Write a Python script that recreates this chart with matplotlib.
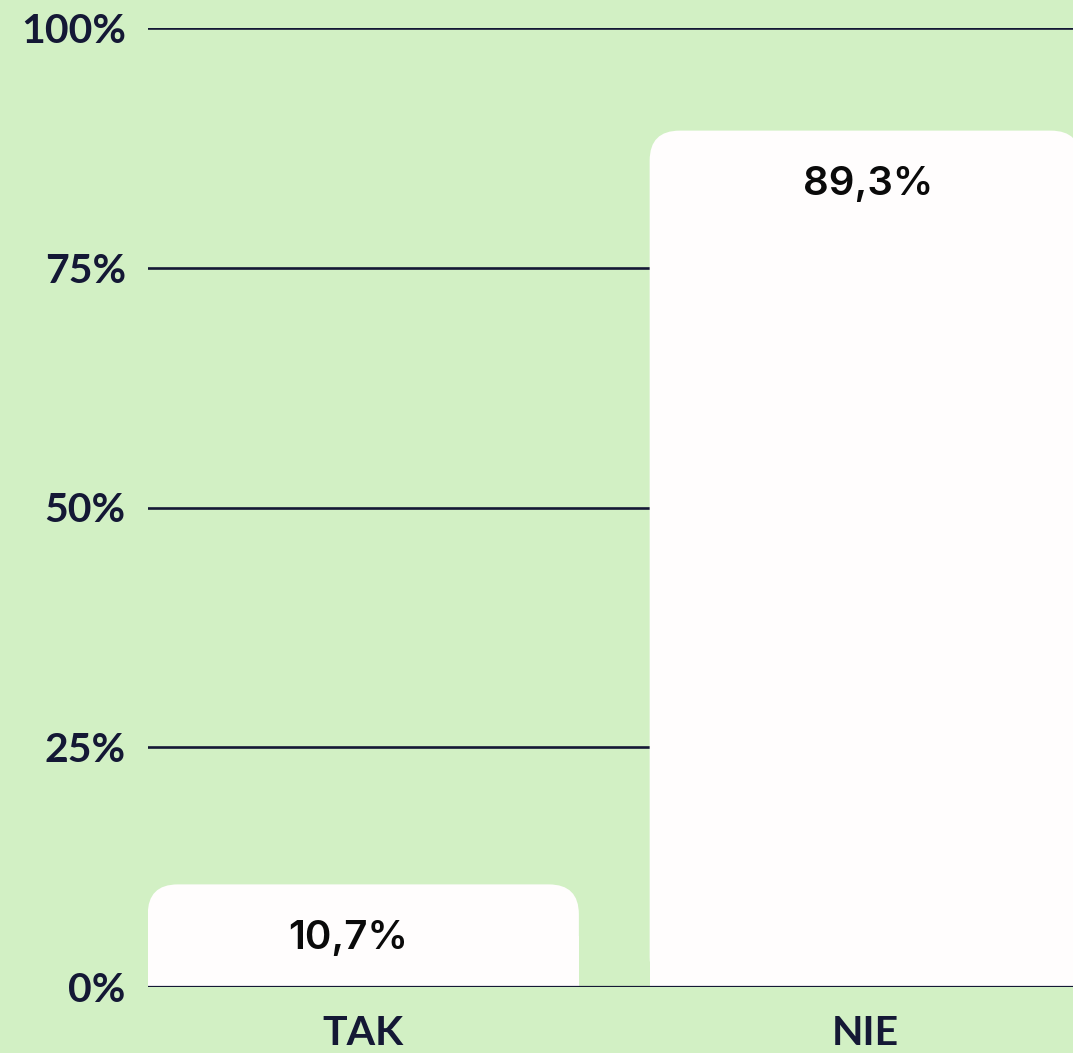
import matplotlib
matplotlib.use("Agg")
import matplotlib.pyplot as plt
from matplotlib.patches import FancyBboxPatch, Rectangle

categories = ["TAK", "NIE"]
values = [10.7, 89.3]
value_labels = ["10,7%", "89,3%"]
yticks = [0, 25, 50, 75, 100]
ytick_labels = ["0%", "25%", "50%", "75%", "100%"]

BG = "#d2f0c4"
DARK = "#141835"
BAR = "#fffdfd"

fig = plt.figure(figsize=(10.73, 10.53), dpi=100, facecolor=BG)
ax = fig.add_axes([148/1073, (1053-987)/1053, 1 - 148/1073, (987-28)/1053])
ax.set_facecolor(BG)

xmin, xmax = -0.429, 1.414
ax.set_xlim(xmin, xmax)
ax.set_ylim(0, 100)

for y in yticks:
    ax.axhline(y, color=DARK, lw=1.9, zorder=1)

width = 0.859
ax_w_px = 1073 - 148
ax_h_px = 987 - 28
ux = ax_w_px / (xmax - xmin)
uy = ax_h_px / 100
aspect = ux / uy
r_x = 30 / ux

label_dx = [-11, 2]
for i, v in enumerate(values):
    x0 = i - width / 2
    p = FancyBboxPatch((x0, 0), width, v,
                       boxstyle=f"round,pad=0,rounding_size={r_x}",
                       mutation_aspect=aspect, facecolor=BAR, edgecolor="none", zorder=2)
    ax.add_patch(p)
    ax.add_patch(Rectangle((x0, 0), width, v * 0.5, facecolor=BAR, edgecolor="none", zorder=2))
    ax.annotate(value_labels[i], (i, v), xytext=(label_dx[i], -39), textcoords="offset points",
                ha="center", va="center", fontsize=29, fontfamily="Inter",
                fontweight="semibold", color="#0a0a0a", zorder=4)

ax.axhline(0, color=DARK, lw=1.6, zorder=3)

ax.set_yticks(yticks)
ax.set_yticklabels(ytick_labels)
ax.set_xticks(range(len(categories)))
ax.set_xticklabels(categories)
ax.tick_params(axis="y", length=0, pad=16, labelsize=29.5, labelcolor=DARK)
ax.tick_params(axis="x", length=0, pad=20, labelsize=29.5, labelcolor=DARK)
for lab in ax.get_yticklabels() + ax.get_xticklabels():
    lab.set_fontfamily("Lato")
    lab.set_fontweight("bold")
for s in ax.spines.values():
    s.set_visible(False)

fig.savefig("out.png", dpi=100, facecolor=BG)
